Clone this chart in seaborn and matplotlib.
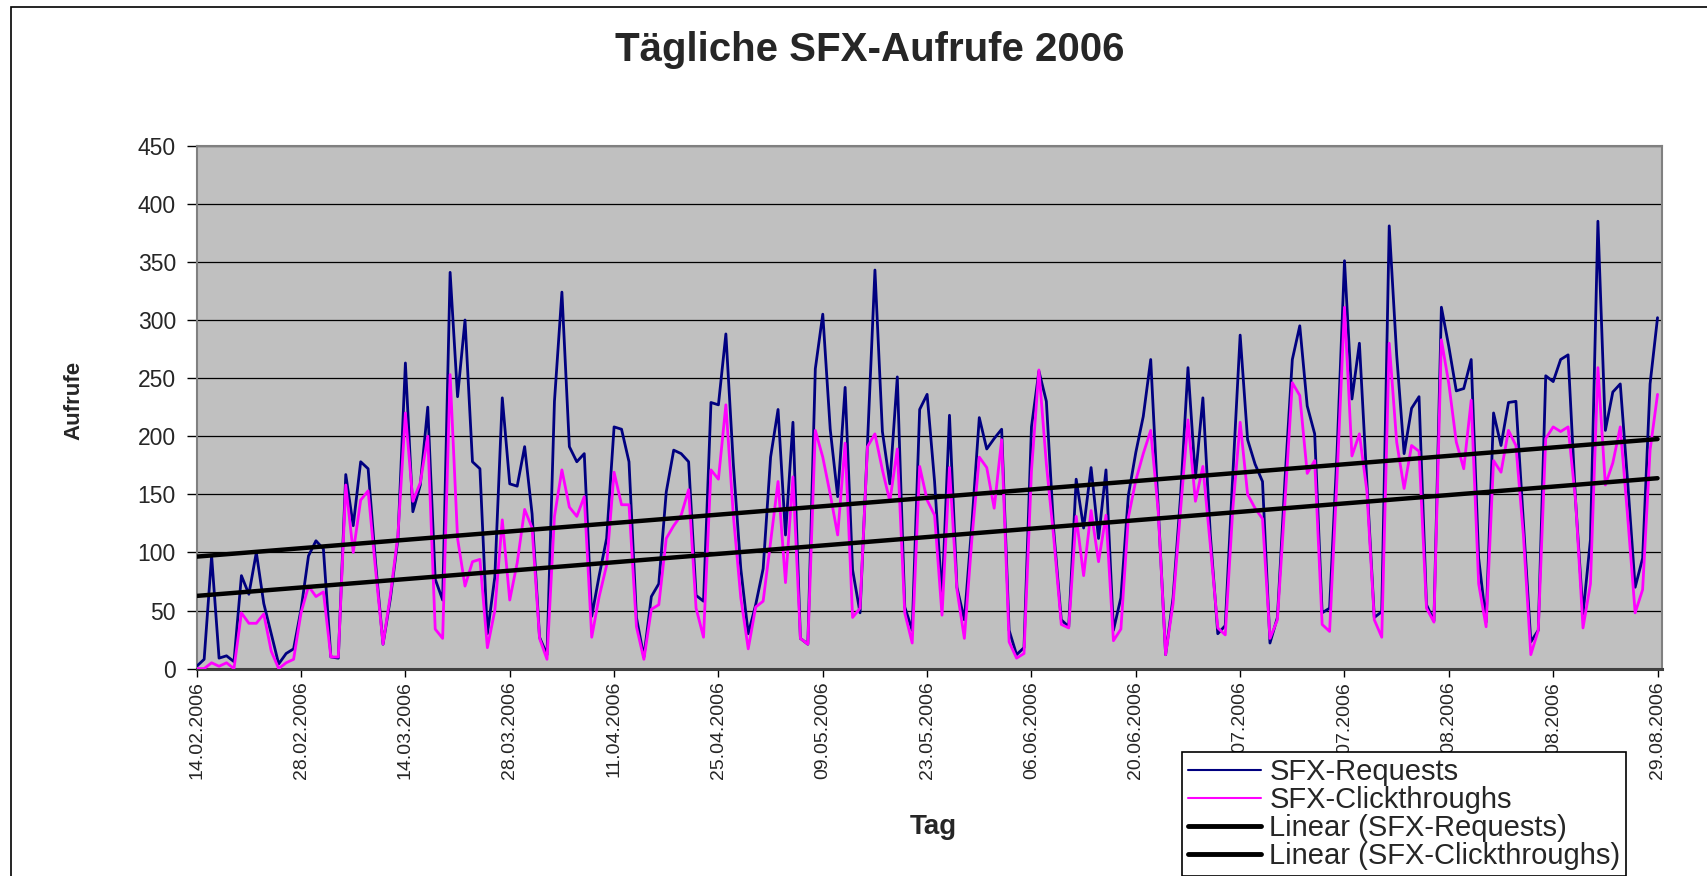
import numpy as np
import pandas as pd
import matplotlib
matplotlib.use("Agg")
import matplotlib.pyplot as plt
from matplotlib.patches import Rectangle
import seaborn as sns

# daily values, 14.02.2006 - 29.08.2006
requests = [
    2, 8, 97, 9, 11, 6, 80, 64, 100, 56, 30, 4, 13, 17,
    51, 97, 110, 103, 10, 9, 167, 123, 178, 172, 91, 21, 61, 112,
    263, 135, 158, 225, 77, 59, 341, 234, 300, 178, 172, 30, 79, 233,
    159, 157, 191, 133, 27, 12, 230, 324, 191, 178, 185, 45, 80, 112,
    208, 206, 178, 44, 10, 62, 73, 152, 188, 185, 178, 63, 58, 229,
    227, 288, 176, 86, 30, 55, 86, 182, 223, 115, 212, 26, 21, 258,
    305, 206, 148, 242, 85, 48, 194, 343, 204, 159, 251, 53, 33, 223,
    236, 161, 61, 218, 70, 42, 124, 216, 189, 198, 206, 33, 12, 18,
    208, 256, 230, 118, 42, 36, 163, 121, 173, 112, 171, 33, 61, 149,
    186, 217, 266, 139, 12, 61, 148, 259, 164, 233, 115, 30, 37, 165,
    287, 197, 176, 161, 22, 44, 161, 266, 295, 226, 202, 48, 52, 186,
    351, 232, 280, 161, 44, 49, 381, 270, 185, 224, 234, 55, 41, 311,
    277, 239, 241, 266, 95, 40, 220, 192, 229, 230, 127, 23, 33, 252,
    247, 266, 270, 145, 47, 111, 385, 205, 238, 245, 160, 70, 95, 245,
    302,
]
clickthroughs = [
    0, 0, 5, 2, 5, 0, 48, 39, 39, 47, 15, 0, 5, 8,
    48, 71, 62, 66, 10, 10, 158, 100, 145, 153, 85, 21, 64, 115,
    220, 144, 160, 200, 34, 26, 253, 112, 71, 92, 94, 18, 50, 128,
    59, 91, 137, 121, 26, 8, 131, 171, 139, 131, 148, 27, 62, 89,
    169, 141, 141, 36, 8, 51, 55, 112, 123, 132, 154, 52, 27, 171,
    163, 227, 132, 61, 17, 53, 58, 109, 161, 74, 165, 26, 21, 205,
    182, 150, 115, 194, 44, 52, 191, 202, 171, 144, 189, 48, 22, 174,
    145, 132, 46, 173, 68, 26, 111, 182, 173, 138, 197, 23, 9, 13,
    170, 257, 176, 112, 38, 35, 131, 80, 136, 92, 132, 24, 34, 130,
    162, 185, 205, 136, 12, 56, 136, 214, 144, 174, 106, 35, 29, 136,
    212, 150, 138, 129, 26, 42, 142, 246, 235, 168, 179, 38, 32, 164,
    311, 183, 202, 153, 42, 27, 280, 195, 155, 192, 187, 52, 40, 283,
    245, 195, 172, 231, 73, 36, 179, 169, 205, 192, 115, 12, 33, 198,
    208, 204, 208, 145, 35, 73, 259, 158, 177, 208, 130, 48, 68, 188,
    236,
]
tick_labels = [
    "14.02.2006", "28.02.2006", "14.03.2006", "28.03.2006", "11.04.2006",
    "25.04.2006", "09.05.2006", "23.05.2006", "06.06.2006", "20.06.2006",
    "04.07.2006", "18.07.2006", "01.08.2006", "15.08.2006", "29.08.2006",
]
series_names = ["SFX-Requests", "SFX-Clickthroughs",
                "Linear (SFX-Requests)", "Linear (SFX-Clickthroughs)"]

df = pd.DataFrame({"day": np.arange(len(requests)),
                   "requests": requests,
                   "clicks": clickthroughs})

sns.set_style("white")
plt.rcParams["font.family"] = ["Liberation Sans", "DejaVu Sans"]

W, H = 1708, 876
fig = plt.figure(figsize=(W / 100, H / 100), dpi=100)
ax = fig.add_axes([196.7 / W, 1 - 668.6 / H, (1662 - 196.7) / W, (668.6 - 145.7) / H])
ax.set_facecolor("#C0C0C0")

sns.lineplot(data=df, x="day", y="requests", ax=ax, color="#000080", lw=2.0,
             zorder=3, legend=False)
sns.lineplot(data=df, x="day", y="clicks", ax=ax, color="#FF00FF", lw=2.0,
             zorder=4, legend=False)
sns.regplot(data=df, x="day", y="requests", ax=ax, scatter=False, ci=None,
            truncate=True, line_kws={"color": "black", "lw": 3.2, "zorder": 5})
sns.regplot(data=df, x="day", y="clicks", ax=ax, scatter=False, ci=None,
            truncate=True, line_kws={"color": "black", "lw": 3.2, "zorder": 5})

ax.set_xlim(0, 196.6)
ax.set_ylim(0, 450)
ax.set_yticks(range(0, 451, 50))
ax.set_xticks(range(0, 197, 14))
ax.set_xticklabels(tick_labels, rotation=90)
ax.yaxis.grid(True, color="black", lw=0.9)
ax.xaxis.grid(False)
ax.set_axisbelow(True)
ax.set_xlabel("")
ax.set_ylabel("")
ax.tick_params(axis="y", direction="out", length=7, width=1, color="black",
               pad=8, labelsize=16.5, left=True)
ax.tick_params(axis="x", direction="out", length=6, width=1, color="black",
               pad=3, labelsize=14, bottom=True)
for side in ["top", "right", "left"]:
    ax.spines[side].set_color("#808080")
    ax.spines[side].set_linewidth(1.5)
ax.spines["bottom"].set_color("#404040")
ax.spines["bottom"].set_linewidth(2.2)

fig.text(870 / W, 1 - 50 / H, "Tägliche SFX-Aufrufe 2006", ha="center",
         va="center", fontsize=29, fontweight="bold")
fig.text(74 / W, 1 - 400 / H, "Aufrufe", rotation=90, ha="center",
         va="center", fontsize=16, fontweight="bold")
fig.text(933 / W, 1 - 827 / H, "Tag", ha="center", va="center",
         fontsize=20, fontweight="bold")

# outer chart border
fig.patches.append(Rectangle((11 / W, -0.2), 1.5, 1.2 - 7 / H,
                             transform=fig.transFigure, fill=False,
                             ec="black", lw=1.2))

handles = ax.get_lines()[:4]
leg = fig.legend(handles, series_names, loc="upper left",
                 bbox_to_anchor=(1182 / W, 1 - 752 / H), frameon=True,
                 fancybox=False, edgecolor="black", framealpha=1,
                 fontsize=21, handlelength=2.5, labelspacing=0.0,
                 borderpad=0.2, handletextpad=0.3, borderaxespad=0)
leg.get_frame().set_linewidth(1.2)
for line, lw in zip(leg.get_lines(), [1.5, 1.5, 3.5, 3.5]):
    line.set_linewidth(lw)

fig.savefig("out.png", dpi=100)
